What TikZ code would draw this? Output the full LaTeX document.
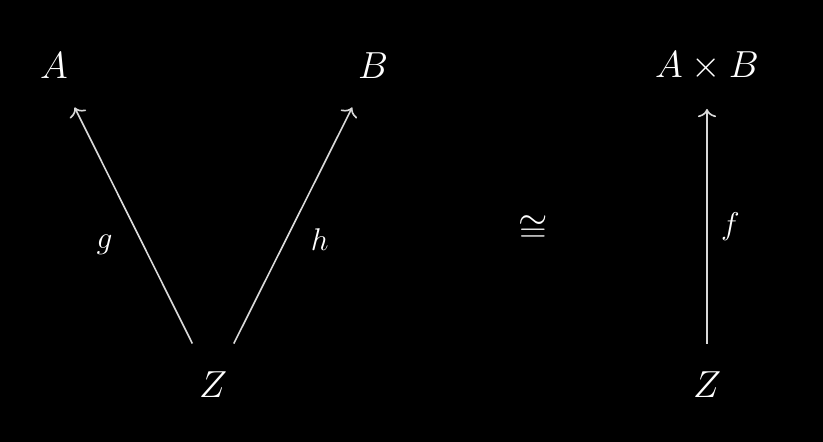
\documentclass[tikz,border=0pt]{standalone}
\usepackage{amsmath}
\usepackage{amssymb}
\usepackage{tikz}
\usetikzlibrary{positioning,arrows.meta}

\begin{document}
\begin{tikzpicture}[
      x=0.55pt, y=0.55pt,
      nodes={text=white, font=\huge},
      obj/.style={inner sep=15.5pt},
      lbl/.style={font=\LARGE},
      arr/.style={->, draw=white!85!black, line width=0.9pt},
      >={Computer Modern Rightarrow[length=4.5pt,width=10pt]},
      on grid
      ]

      \path[use as bounding box, fill=black] (0,0) rectangle (823,442);

      \node[obj] at (213,57)                               (zl) {$Z$};
      \node[obj, above left = 175.45pt and 87.45pt of zl]  (a) {$A$};
      \node[obj, above right = 175.45pt and 88pt of zl]    (b) {$B$};
      \node[obj, right = 271.7pt of zl]                    (zr) {$Z$};
      \node[obj, above = 175.45pt of zr]                   (ab) {$A \times B$};
      \node at (533,213)                                   (iso) {$\cong$};

  % Connect the nodes
  \draw[arr] (zl) -- node[lbl, pos=0.42, left=13pt] {$g$} (a);
  \draw[arr] (zl) -- node[lbl, pos=0.44, right=10pt] {$h$} (b);
  \draw[arr] (zr) -- node[lbl, midway, right=4pt] {$f$} (ab);

\end{tikzpicture}
\end{document}
